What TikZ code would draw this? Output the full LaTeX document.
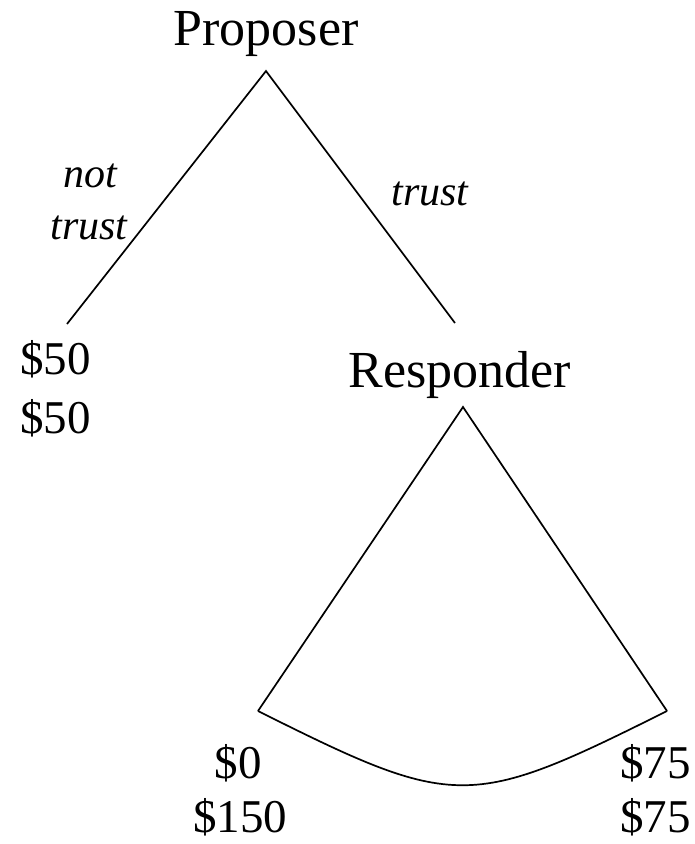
\documentclass[tikz,border=0pt]{standalone}
\usepackage{fontspec}
\setmainfont{Liberation Serif}
\begin{document}
\begin{tikzpicture}[x=1pt,y=-1pt,
  big/.style={inner sep=0pt,anchor=base,font=\fontsize{52}{58}\selectfont},
  pay/.style={inner sep=0pt,anchor=base,font=\fontsize{47}{52}\selectfont},
  lab/.style={inner sep=0pt,anchor=base,font=\fontsize{42}{48}\selectfont\itshape},
  edge/.style={line width=1.7pt,line join=miter}]
\useasboundingbox (0,0) rectangle (694,844);
% player names
\node[big] (prop) at (266,45) {Proposer};
\node[big] (resp) at (460,387) {Responder};
% tree points
\coordinate (pa) at (266,71);
\coordinate (nt) at (67,324);
\coordinate (tr) at (455,323);
\coordinate (ra) at (463,407);
\coordinate (rl) at (258,711);
\coordinate (rr) at (667,711);
% edges
\draw[edge] (nt) -- (pa) -- (tr);
\draw[edge] (rl) -- (ra) -- (rr);
\draw[edge] (rl) .. controls (456,810) and (469,810) .. (rr);
% action labels
\node[lab] (not) at (90,187) {not};
\node[lab] (trust1) at (89,239) {trust};
\node[lab] (trust2) at (430,205) {trust};
% payoffs
\node[pay,anchor=base west] (a1) at (20,374) {\$50};
\node[pay,anchor=base west] (a2) at (20,433) {\$50};
\node[pay] (b1) at (238,778) {\$0};
\node[pay] (b2) at (240,832) {\$150};
\node[pay,anchor=base west] (c1) at (620,778) {\$75};
\node[pay,anchor=base west] (c2) at (620,832) {\$75};
\end{tikzpicture}
\end{document}
